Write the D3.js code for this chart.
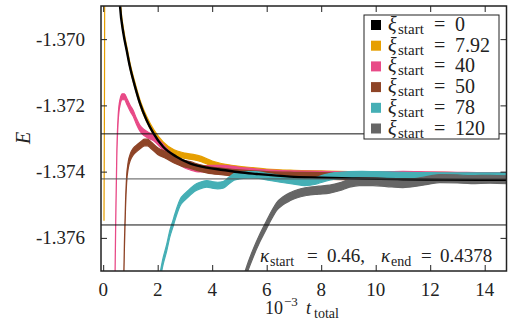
<!DOCTYPE html>
<html>
<head>
<meta charset="utf-8">
<script src="https://cdn.jsdelivr.net/npm/d3@7"></script>
<style>
body { margin: 0; background: #fff; }
</style>
</head>
<body>
<div id="chart"></div>
<script>
// ---- data ----
var xTicks = [0, 2, 4, 6, 8, 10, 12, 14];
var yTicks = [-1.370, -1.372, -1.374, -1.376];
var refLines = [-1.37286, -1.37422, -1.37561];
var xiStart = ["0", "7.92", "40", "50", "78", "120"];

// xi_start = 0
var t0 = [0.50, 0.62, 0.74, 0.86, 0.98, 1.17, 1.35, 1.59, 1.84, 2.20, 2.69, 3.18, 3.80, 4.40, 5.00, 5.63, 6.85, 8.00, 9.50, 11.0, 12.5, 14.0, 14.9];
var e0 = [-1.3670, -1.36902, -1.36982, -1.37033, -1.37083, -1.37144, -1.37194, -1.37244, -1.37284, -1.37325, -1.37355, -1.37375, -1.37388, -1.37395, -1.37402, -1.37407, -1.37415, -1.37418, -1.37421, -1.37423, -1.37424, -1.37425, -1.37425];
// xi_start = 7.92
var t1 = [0.03, 0.04, 0.05, 0.06, 0.52, 0.64, 0.76, 0.88, 1.00, 1.19, 1.37, 1.61, 1.86, 2.20, 2.60, 3.00, 3.30, 3.60, 4.00, 4.50, 5.00, 5.50, 6.00, 7.00, 8.00, 9.00, 10.0, 11.0, 12.0, 13.0, 14.0, 14.9];
var e1 = [-1.37540, -1.3735, -1.3710, -1.3670, -1.3668, -1.36903, -1.36984, -1.37036, -1.37086, -1.37146, -1.37196, -1.37244, -1.37282, -1.37318, -1.37342, -1.37352, -1.37356, -1.37362, -1.37376, -1.37386, -1.37392, -1.37396, -1.37400, -1.37404, -1.37406, -1.37408, -1.37409, -1.37410, -1.37410, -1.37411, -1.37411, -1.37412];
// xi_start = 40
var t2 = [0.43, 0.46, 0.50, 0.55, 0.62, 0.70, 0.78, 0.88, 1.00, 1.10, 1.22, 1.35, 1.50, 1.65, 1.85, 2.10, 2.40, 2.70, 3.00, 3.20, 3.55, 4.00, 4.40, 5.00, 5.50, 6.00, 7.00, 8.00, 9.00, 10.0, 11.0, 12.0, 13.0, 14.0, 14.9];
var e2 = [-1.3775, -1.3755, -1.3735, -1.3724, -1.37190, -1.37174, -1.37174, -1.37190, -1.37210, -1.37224, -1.37248, -1.37269, -1.37282, -1.37290, -1.37298, -1.37318, -1.37345, -1.37365, -1.37380, -1.37386, -1.37392, -1.37390, -1.37390, -1.37396, -1.37400, -1.37404, -1.37407, -1.37408, -1.37410, -1.37410, -1.37408, -1.37410, -1.37411, -1.37412, -1.37412];
// xi_start = 50
var t3 = [0.75, 0.78, 0.82, 0.86, 0.92, 1.00, 1.10, 1.25, 1.40, 1.52, 1.62, 1.75, 2.00, 2.30, 2.60, 2.90, 3.20, 3.50, 3.80, 4.40, 5.00, 5.50, 6.00, 7.00, 8.00, 9.00, 10.0, 11.0, 12.0, 13.0, 14.0, 14.9];
var e3 = [-1.3775, -1.3762, -1.3750, -1.37425, -1.37380, -1.37355, -1.37340, -1.37328, -1.37318, -1.37312, -1.37312, -1.37320, -1.37338, -1.37350, -1.37364, -1.37374, -1.37380, -1.37388, -1.37394, -1.37400, -1.37405, -1.37408, -1.37410, -1.37412, -1.37413, -1.37414, -1.37414, -1.37415, -1.37415, -1.37415, -1.37415, -1.37415];
// xi_start = 78
var t4 = [2.08, 2.20, 2.33, 2.45, 2.55, 2.63, 2.72, 2.82, 3.00, 3.18, 3.35, 3.55, 3.80, 4.00, 4.20, 4.40, 4.60, 4.80, 5.00, 5.30, 5.60, 6.00, 6.50, 7.00, 7.40, 7.80, 8.10, 8.50, 9.00, 9.50, 10.0, 11.0, 12.0, 13.0, 14.0, 14.9];
var e4 = [-1.3772, -1.3767, -1.3763, -1.37586, -1.3756, -1.37538, -1.37515, -1.37494, -1.37476, -1.37462, -1.37450, -1.37442, -1.37437, -1.37440, -1.37442, -1.37440, -1.37428, -1.37416, -1.37412, -1.37410, -1.37410, -1.37415, -1.37422, -1.37428, -1.37432, -1.37428, -1.37420, -1.37413, -1.37410, -1.37409, -1.37410, -1.37412, -1.37413, -1.37414, -1.37414, -1.37414];
// xi_start = 120
var t5 = [5.18, 5.30, 5.50, 5.75, 5.99, 6.20, 6.36, 6.60, 6.85, 7.15, 7.46, 7.90, 8.31, 8.70, 9.04, 9.40, 9.90, 10.4, 11.0, 11.5, 12.0, 12.35, 13.0, 13.5, 14.2, 14.9];
var e5 = [-1.3772, -1.3769, -1.37647, -1.3760, -1.37561, -1.37528, -1.37506, -1.37488, -1.37476, -1.37466, -1.37460, -1.37456, -1.37453, -1.37445, -1.37435, -1.37430, -1.37430, -1.37433, -1.37436, -1.37432, -1.37425, -1.37421, -1.37422, -1.37424, -1.37423, -1.37425];

// ---- styles ----
var colors = ["#000000", "#E69F00", "#E84A87", "#8E4427", "#45AFB5", "#666666"];
var halfBand = [0, 0.00008, 0.00009, 0.0001, 0.0001, 0.00012];
var serif = "'Liberation Serif', 'Times New Roman', Times, 'DejaVu Serif', serif";

var W = 508, H = 329;
var mLeft = 101, mRight = 506.5, mTop = 6, mBottom = 271;

var svg = d3.select("#chart").append("svg")
    .attr("width", W)
    .attr("height", H)
    .style("font-family", serif)
    .attr("fill", "#222");

var x = d3.scaleLinear().domain([-0.08, 14.8]).range([mLeft, mRight]);
var y = d3.scaleLinear().domain([-1.377, -1.369]).range([mBottom, mTop]);

svg.append("clipPath").attr("id", "clip")
    .append("rect")
    .attr("x", mLeft).attr("y", mTop)
    .attr("width", mRight - mLeft).attr("height", mBottom - mTop);

var plot = svg.append("g").attr("clip-path", "url(#clip)");

var series = [
    {t: t0, e: e0}, {t: t1, e: e1}, {t: t2, e: e2},
    {t: t3, e: e3}, {t: t4, e: e4}, {t: t5, e: e5}
];

function pts(s) {
    return s.t.map((t, i) => ({t: t, e: s.e[i]}));
}

// bands, drawn in the stacking order seen in the figure
[1, 2, 3, 4, 5].forEach(k => {
    var h = halfBand[k];
    var area = d3.area()
        .curve(d3.curveMonotoneX)
        .x(d => x(d.t))
        .y0(d => y(d.e - h))
        .y1(d => y(d.e + h));
    plot.append("path")
        .datum(pts(series[k]))
        .attr("d", area)
        .attr("fill", colors[k])
        .attr("stroke", colors[k])
        .attr("stroke-width", 1.2);
});

var line = d3.line()
    .curve(d3.curveMonotoneX)
    .x(d => x(d.t))
    .y(d => y(d.e));

plot.append("path")
    .datum(pts(series[0]))
    .attr("d", line)
    .attr("fill", "none")
    .attr("stroke", colors[0])
    .attr("stroke-width", 2.4);

// reference lines
plot.selectAll(".ref")
    .data(refLines)
    .join("line")
    .attr("x1", mLeft).attr("x2", mRight)
    .attr("y1", d => y(d)).attr("y2", d => y(d))
    .attr("stroke", (d, i) => i == 1 ? "#555" : "#111")
    .attr("stroke-width", 1);

// axes with inward ticks on all four sides
var tick = 6;
svg.append("g")
    .attr("transform", "translate(0," + mBottom + ")")
    .call(d3.axisBottom(x).tickValues(xTicks).tickSize(-tick).tickFormat(""));
svg.append("g")
    .attr("transform", "translate(0," + mTop + ")")
    .call(d3.axisTop(x).tickValues(xTicks).tickSize(-tick).tickFormat(""));
svg.append("g")
    .attr("transform", "translate(" + mLeft + ",0)")
    .call(d3.axisLeft(y).tickValues(yTicks).tickSize(-tick).tickFormat(""));
svg.append("g")
    .attr("transform", "translate(" + mRight + ",0)")
    .call(d3.axisRight(y).tickValues(yTicks).tickSize(-tick).tickFormat(""));
svg.selectAll(".domain").remove();
svg.selectAll(".tick line").attr("stroke", "#222").attr("stroke-width", 1);

svg.append("rect")
    .attr("x", mLeft).attr("y", mTop)
    .attr("width", mRight - mLeft).attr("height", mBottom - mTop)
    .attr("fill", "none")
    .attr("stroke", "#222")
    .attr("stroke-width", 1.5);

// tick labels
svg.selectAll(".xl")
    .data(xTicks)
    .join("text")
    .attr("x", d => x(d))
    .attr("y", 296)
    .attr("text-anchor", "middle")
    .attr("font-size", 19)
    .text(d => d);

svg.selectAll(".yl")
    .data(yTicks)
    .join("text")
    .attr("x", 85)
    .attr("y", d => y(d) + 6.5)
    .attr("text-anchor", "end")
    .attr("font-size", 19)
    .text(d => d.toFixed(3));

// axis titles
svg.append("text")
    .attr("transform", "translate(30,138) rotate(-90)")
    .attr("text-anchor", "middle")
    .attr("font-size", 20)
    .attr("font-style", "italic")
    .text("E");

var xt = svg.append("text").attr("font-size", 18);
xt.append("tspan").attr("x", 265).attr("y", 314).text("10");
xt.append("tspan").attr("x", 284).attr("y", 306).attr("font-size", 13).text("\u22123");
xt.append("tspan").attr("x", 306).attr("y", 314).attr("font-style", "italic").text("t");
xt.append("tspan").attr("x", 314).attr("y", 318).attr("font-size", 14).text("total");

// annotation
var an = svg.append("text").attr("font-size", 19);
an.append("tspan").attr("x", 260).attr("y", 262).attr("font-style", "italic").text("\u03ba");
an.append("tspan").attr("x", 270).attr("y", 266).attr("font-size", 14).text("start");
an.append("tspan").attr("x", 307).attr("y", 262).text("=");
an.append("tspan").attr("x", 327).attr("y", 262).text("0.46,");
an.append("tspan").attr("x", 381).attr("y", 262).attr("font-style", "italic").text("\u03ba");
an.append("tspan").attr("x", 391).attr("y", 266).attr("font-size", 14).text("end");
an.append("tspan").attr("x", 421).attr("y", 262).text("=");
an.append("tspan").attr("x", 440).attr("y", 262).text("0.4378");

// legend
var lg = svg.append("g");
lg.append("rect")
    .attr("x", 364).attr("y", 15)
    .attr("width", 135).attr("height", 124)
    .attr("fill", "#fff")
    .attr("stroke", "#222")
    .attr("stroke-width", 1);

xiStart.forEach((v, i) => {
    var cy = 25 + i * 20.7;
    lg.append("rect")
        .attr("x", 371).attr("y", cy - 5)
        .attr("width", 10).attr("height", 10)
        .attr("fill", colors[i]);
    var tx = lg.append("text").attr("font-size", 20);
    tx.append("tspan").attr("x", 388).attr("y", cy + 6).attr("font-style", "italic").text("\u03be");
    tx.append("tspan").attr("x", 398).attr("y", cy + 9).attr("font-size", 15).text("start");
    tx.append("tspan").attr("x", 434).attr("y", cy + 6).text("=");
    tx.append("tspan").attr("x", 455).attr("y", cy + 6).text(v);
});
</script>
</body>
</html>
